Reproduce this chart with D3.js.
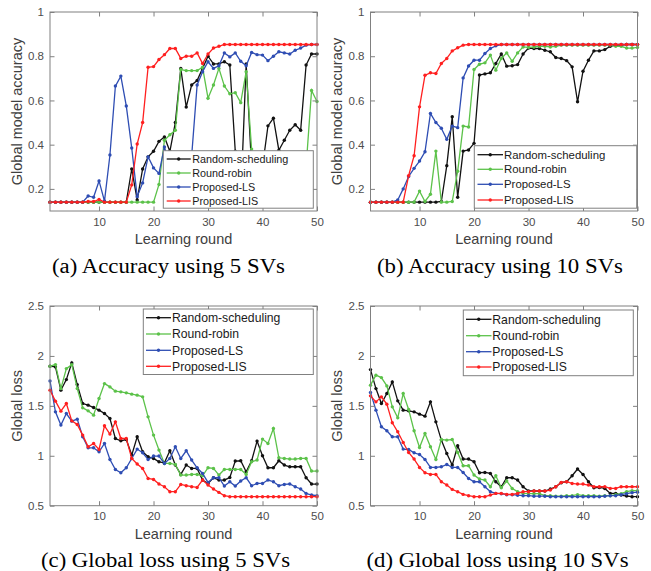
<!DOCTYPE html>
<html>
<head>
<meta charset="utf-8">
<title>Accuracy and loss vs learning round</title>
<script src="https://cdn.jsdelivr.net/npm/d3@7"></script>
<style>
    body { margin: 0; background: #fff; }
    .tick text { font-family: "Liberation Sans", Arial, sans-serif; fill: #4d4d4d; }
    .tick line { stroke: #808080; }
    .axlabel { font-family: "Liberation Sans", Arial, sans-serif; fill: #404040; font-size: 14.5px; }
    .legend text { font-family: "Liberation Sans", Arial, sans-serif; fill: #1a1a1a; }
    .caption { font-family: "Liberation Serif", "Times New Roman", serif; fill: #000; font-size: 20.5px; }
</style>
</head>
<body>
<svg id="fig" width="651" height="571"></svg>
<script>
var rounds = d3.range(1, 51);
var seriesNames = ["Random-scheduling", "Round-robin", "Proposed-LS", "Proposed-LIS"];
var seriesColors = ["#111111", "#5cc24a", "#2e4db3", "#ff1f1f"];
var xTicks = [10, 20, 30, 40, 50];
var accTicks = [0.2, 0.4, 0.6, 0.8, 1];
var lossTicks = [0.5, 1, 1.5, 2, 2.5];
var captionTexts = ["(a) Accuracy using 5 SVs", "(b) Accuracy using 10 SVs",
                    "(c) Global loss using 5 SVs", "(d) Global loss using 10 SVs"];

// accuracy, 5 SVs
var rsAcc5 = [0.14,0.14,0.14,0.14,0.14,0.14,0.14,0.14,0.14,0.14,
              0.14,0.14,0.14,0.14,0.14,0.29,0.15,0.29,0.345,0.37,
              0.415,0.435,0.37,0.5,0.745,0.57,0.67,0.69,0.745,0.8,
              0.765,0.765,0.775,0.76,0.37,0.15,0.765,0.3,0.15,0.3,
              0.485,0.52,0.375,0.42,0.465,0.49,0.465,0.76,0.81,0.81];
var rrAcc5 = [0.14,0.14,0.14,0.14,0.14,0.14,0.14,0.14,0.14,0.14,
              0.14,0.14,0.14,0.14,0.14,0.14,0.14,0.14,0.14,0.14,
              0.22,0.42,0.445,0.465,0.74,0.735,0.735,0.735,0.75,0.61,
              0.67,0.745,0.665,0.63,0.635,0.59,0.73,0.38,0.2,0.14,
              0.14,0.14,0.14,0.14,0.14,0.14,0.14,0.3,0.645,0.595];
var lsAcc5 = [0.14,0.14,0.14,0.14,0.14,0.14,0.14,0.168,0.162,0.236,
              0.145,0.353,0.665,0.71,0.575,0.385,0.165,0.227,0.345,0.295,
              0.27,0.39,0.3,0.25,0.2,0.25,0.35,0.67,0.73,0.775,
              0.745,0.757,0.815,0.797,0.815,0.777,0.757,0.817,0.807,0.805,
              0.78,0.8,0.82,0.815,0.81,0.827,0.837,0.85,0.853,0.853];
var lisAcc5 = [0.14,0.14,0.14,0.14,0.14,0.14,0.14,0.143,0.143,0.152,
               0.14,0.14,0.14,0.14,0.14,0.218,0.403,0.5,0.75,0.753,
               0.785,0.807,0.835,0.835,0.79,0.8,0.8,0.815,0.767,0.81,
               0.837,0.845,0.853,0.853,0.853,0.853,0.853,0.853,0.853,0.853,
               0.853,0.853,0.853,0.853,0.853,0.853,0.853,0.853,0.853,0.853];

// accuracy, 10 SVs
var rsAcc10 = [0.14,0.14,0.14,0.14,0.14,0.14,0.14,0.14,0.14,0.14,
               0.14,0.14,0.14,0.143,0.305,0.526,0.162,0.371,0.376,0.406,
               0.715,0.72,0.725,0.767,0.81,0.755,0.757,0.762,0.81,0.837,
               0.835,0.835,0.827,0.82,0.794,0.79,0.78,0.752,0.594,0.732,
               0.782,0.824,0.824,0.83,0.845,0.85,0.85,0.853,0.853,0.853];
var rrAcc10 = [0.14,0.14,0.14,0.14,0.14,0.14,0.14,0.14,0.14,0.19,
               0.143,0.176,0.371,0.14,0.14,0.143,0.28,0.484,0.48,0.74,
               0.764,0.77,0.805,0.737,0.79,0.815,0.777,0.815,0.842,0.84,
               0.842,0.845,0.845,0.842,0.845,0.85,0.85,0.85,0.85,0.85,
               0.85,0.85,0.85,0.85,0.85,0.845,0.845,0.837,0.837,0.84];
var lsAcc10 = [0.14,0.14,0.14,0.14,0.14,0.15,0.2,0.256,0.293,0.326,
               0.368,0.541,0.5,0.474,0.424,0.484,0.477,0.702,0.756,0.782,
               0.782,0.812,0.835,0.847,0.853,0.853,0.853,0.853,0.853,0.853,
               0.853,0.853,0.853,0.853,0.853,0.853,0.853,0.853,0.853,0.853,
               0.853,0.853,0.853,0.853,0.853,0.853,0.853,0.853,0.853,0.853];
var lisAcc10 = [0.14,0.14,0.14,0.14,0.14,0.14,0.14,0.26,0.35,0.571,
                0.714,0.725,0.722,0.767,0.79,0.824,0.838,0.85,0.853,0.853,
                0.853,0.853,0.853,0.853,0.853,0.853,0.853,0.853,0.853,0.853,
                0.853,0.853,0.853,0.853,0.853,0.853,0.853,0.853,0.853,0.853,
                0.853,0.853,0.853,0.853,0.853,0.853,0.853,0.853,0.853,0.853];

// global loss, 5 SVs
var rsLoss5 = [1.897,1.89,1.657,1.763,1.93,1.713,1.523,1.507,1.483,1.457,
               1.423,1.373,1.173,1.15,1.163,1.007,1.19,1.04,0.99,0.973,
               0.94,0.93,1.05,0.907,0.813,0.907,0.873,0.873,0.757,0.723,
               0.78,0.757,0.757,0.783,0.947,0.95,0.84,0.95,1.147,1.0,
               0.88,0.88,0.95,0.907,0.89,0.89,0.89,0.78,0.717,0.717];
var rrLoss5 = [1.897,1.913,1.673,1.873,1.913,1.673,1.48,1.45,1.407,1.573,
               1.723,1.69,1.647,1.64,1.63,1.617,1.607,1.59,1.39,1.207,
               1.057,0.923,0.923,0.913,0.807,0.807,0.813,0.813,0.8,0.88,
               0.873,0.807,0.863,0.863,0.863,0.863,0.813,0.94,0.957,1.167,
               1.123,1.273,0.98,0.973,0.967,0.967,0.973,0.973,0.847,0.847];
var lsLoss5 = [1.75,1.44,1.307,1.423,1.347,1.367,1.19,1.08,1.08,1.04,
               1.123,0.963,0.863,0.83,0.88,0.973,1.067,1.03,0.963,0.997,
               0.997,0.923,0.973,1.09,0.973,1.05,0.957,0.88,0.823,0.733,
               0.78,0.78,0.697,0.74,0.697,0.747,0.78,0.7,0.723,0.723,
               0.757,0.74,0.7,0.713,0.717,0.69,0.667,0.623,0.607,0.6];
var lisLoss5 = [1.657,1.547,1.447,1.523,1.35,1.313,1.207,1.09,1.123,1.063,
                1.3,1.217,1.34,1.173,1.173,0.973,0.917,0.873,0.773,0.763,
                0.717,0.69,0.64,0.64,0.713,0.7,0.69,0.683,0.757,0.707,
                0.667,0.633,0.6,0.59,0.59,0.59,0.59,0.59,0.59,0.59,
                0.59,0.59,0.59,0.59,0.59,0.59,0.59,0.59,0.59,0.59];

// global loss, 10 SVs
var rsLoss10 = [1.863,1.673,1.523,1.623,1.74,1.55,1.457,1.45,1.44,1.417,
                1.397,1.54,1.34,1.157,1.023,0.907,1.1,0.967,0.967,0.94,
                0.83,0.833,0.823,0.74,0.69,0.78,0.78,0.757,0.69,0.647,
                0.647,0.647,0.647,0.667,0.69,0.73,0.74,0.8,0.867,0.813,
                0.74,0.68,0.683,0.673,0.623,0.623,0.607,0.597,0.59,0.59];
var rrLoss10 = [1.707,1.807,1.783,1.7,1.49,1.38,1.623,1.463,1.25,1.083,
                1.223,1.09,0.963,1.163,1.157,1.163,1.033,0.9,0.9,0.807,
                0.767,0.757,0.69,0.8,0.68,0.747,0.673,0.64,0.623,0.62,
                0.62,0.62,0.6,0.6,0.595,0.595,0.6,0.6,0.61,0.6,
                0.6,0.6,0.595,0.6,0.6,0.61,0.62,0.64,0.65,0.65];
var lsLoss10 = [1.633,1.457,1.29,1.25,1.19,1.19,1.067,1.063,1.03,1.013,
                0.963,0.883,0.883,0.89,0.913,0.883,0.883,0.833,0.773,0.74,
                0.74,0.69,0.64,0.623,0.62,0.61,0.61,0.605,0.6,0.6,
                0.595,0.595,0.595,0.59,0.59,0.59,0.59,0.59,0.59,0.59,
                0.59,0.59,0.59,0.595,0.6,0.6,0.61,0.62,0.63,0.635];
var lisLoss10 = [1.6,1.54,1.59,1.517,1.33,1.24,1.133,1.033,0.967,0.883,
                 0.83,0.813,0.813,0.74,0.707,0.663,0.64,0.613,0.6,0.59,
                 0.59,0.59,0.607,0.623,0.623,0.613,0.613,0.623,0.64,0.64,
                 0.647,0.647,0.647,0.657,0.69,0.733,0.74,0.723,0.717,0.717,
                 0.707,0.69,0.69,0.69,0.673,0.673,0.69,0.69,0.69,0.69];

var axisColor = "#808080";
var svg = d3.select("#fig");

// layout of the four panels (pixel boxes only, data lives above)
var panels = [
    { left: 50, right: 317, top: 12, bottom: 211, yDomain: [0.1, 1], yTicks: accTicks,
      yLabel: "Global model accuracy", yLabelX: 22,
      series: [rsAcc5, rrAcc5, lsAcc5, lisAcc5],
      legend: { x: 163.3, y: 150.7, w: 150, h: 57.5, rows: [159, 173, 187, 201], x1: 166.7, x2: 190.7, tx: 192.3, fs: 10.8 },
      caption: { cx: 168.5, y: 272.7, w: 233, text: captionTexts[0] } },
    { left: 370.5, right: 637.5, top: 12, bottom: 211, yDomain: [0.1, 1], yTicks: accTicks,
      yLabel: "Global model accuracy", yLabelX: 342,
      series: [rsAcc10, rrAcc10, lsAcc10, lisAcc10],
      legend: { x: 474.3, y: 145.7, w: 162.4, h: 62.5, rows: [154.7, 169.3, 184.3, 200], x1: 477.5, x2: 503, tx: 504, fs: 11.4 },
      caption: { cx: 500, y: 272.7, w: 246, text: captionTexts[1] } },
    { left: 50, right: 317, top: 306, bottom: 505.7, yDomain: [0.5, 2.5], yTicks: lossTicks,
      yLabel: "Global loss", yLabelX: 22,
      series: [rsLoss5, rrLoss5, lsLoss5, lisLoss5],
      legend: { x: 143.3, y: 309, w: 170, h: 65.5, rows: [317.7, 334, 350.3, 366.3], x1: 146, x2: 171, tx: 172, fs: 12.2 },
      caption: { cx: 165.5, y: 567, w: 249, text: captionTexts[2] } },
    { left: 370.5, right: 637.5, top: 306, bottom: 505.7, yDomain: [0.5, 2.5], yTicks: lossTicks,
      yLabel: "Global loss", yLabelX: 342,
      series: [rsLoss10, rrLoss10, lsLoss10, lisLoss10],
      legend: { x: 463.3, y: 310, w: 170, h: 65.7, rows: [319.3, 335.7, 351.7, 367], x1: 466, x2: 491.5, tx: 492.3, fs: 12.2 },
      caption: { cx: 497.5, y: 567, w: 262, text: captionTexts[3] } }
];

function drawPanel(p) {
    var x = d3.scaleLinear().domain([1, 50]).range([p.left, p.right]);
    var y = d3.scaleLinear().domain(p.yDomain).range([p.bottom, p.top]);
    var g = svg.append("g");

    var line = d3.line()
        .x(function(d, i) { return x(rounds[i]); })
        .y(function(d) { return y(d); });

    p.series.forEach(function(vals, s) {
        g.append("path")
            .attr("d", line(vals))
            .attr("fill", "none")
            .attr("stroke", seriesColors[s])
            .attr("stroke-width", 1.3);
        g.selectAll(null)
            .data(vals)
            .enter().append("circle")
            .attr("cx", function(d, i) { return x(rounds[i]); })
            .attr("cy", function(d) { return y(d); })
            .attr("r", 1.7)
            .attr("fill", seriesColors[s]);
    });

    // MATLAB style box with inward ticks on all sides
    var tk = -4.5;
    g.append("g").attr("transform", "translate(0," + p.bottom + ")")
        .call(d3.axisBottom(x).tickValues(xTicks).tickSize(tk).tickPadding(6.5))
        .style("font-size", "11.5px");
    g.append("g").attr("transform", "translate(0," + p.top + ")")
        .call(d3.axisTop(x).tickValues(xTicks).tickSize(tk).tickFormat(""));
    g.append("g").attr("transform", "translate(" + p.left + ",0)")
        .call(d3.axisLeft(y).tickValues(p.yTicks).tickSize(tk).tickPadding(6).tickFormat(function(d) { return String(d); }))
        .style("font-size", "11.5px");
    g.append("g").attr("transform", "translate(" + p.right + ",0)")
        .call(d3.axisRight(y).tickValues(p.yTicks).tickSize(tk).tickFormat(""));
    g.selectAll(".domain").remove();
    g.selectAll(".tick line").attr("stroke", axisColor);

    g.append("rect")
        .attr("x", p.left).attr("y", p.top)
        .attr("width", p.right - p.left).attr("height", p.bottom - p.top)
        .attr("fill", "none").attr("stroke", axisColor).attr("stroke-width", 1);

    g.append("text").attr("class", "axlabel")
        .attr("x", (p.left + p.right) / 2).attr("y", p.bottom + 33)
        .attr("text-anchor", "middle")
        .text("Learning round");
    g.append("text").attr("class", "axlabel")
        .attr("transform", "translate(" + p.yLabelX + "," + (p.top + p.bottom) / 2 + ") rotate(-90)")
        .attr("text-anchor", "middle")
        .text(p.yLabel);

    // legend
    var L = p.legend;
    var lg = g.append("g").attr("class", "legend");
    lg.append("rect")
        .attr("x", L.x).attr("y", L.y).attr("width", L.w).attr("height", L.h)
        .attr("fill", "#fff").attr("stroke", axisColor).attr("stroke-width", 1);
    seriesNames.forEach(function(name, s) {
        var ry = L.rows[s];
        lg.append("line")
            .attr("x1", L.x1).attr("x2", L.x2).attr("y1", ry).attr("y2", ry)
            .attr("stroke", seriesColors[s]).attr("stroke-width", 1.3);
        lg.append("circle")
            .attr("cx", (L.x1 + L.x2) / 2).attr("cy", ry).attr("r", 1.7)
            .attr("fill", seriesColors[s]);
        lg.append("text")
            .attr("x", L.tx).attr("y", ry).attr("dy", "0.36em")
            .style("font-size", L.fs + "px")
            .text(name);
    });

    svg.append("text").attr("class", "caption")
        .attr("x", p.caption.cx).attr("y", p.caption.y)
        .attr("text-anchor", "middle")
        .attr("textLength", p.caption.w)
        .attr("lengthAdjust", "spacingAndGlyphs")
        .text(p.caption.text);
}

panels.forEach(drawPanel);
</script>
</body>
</html>
